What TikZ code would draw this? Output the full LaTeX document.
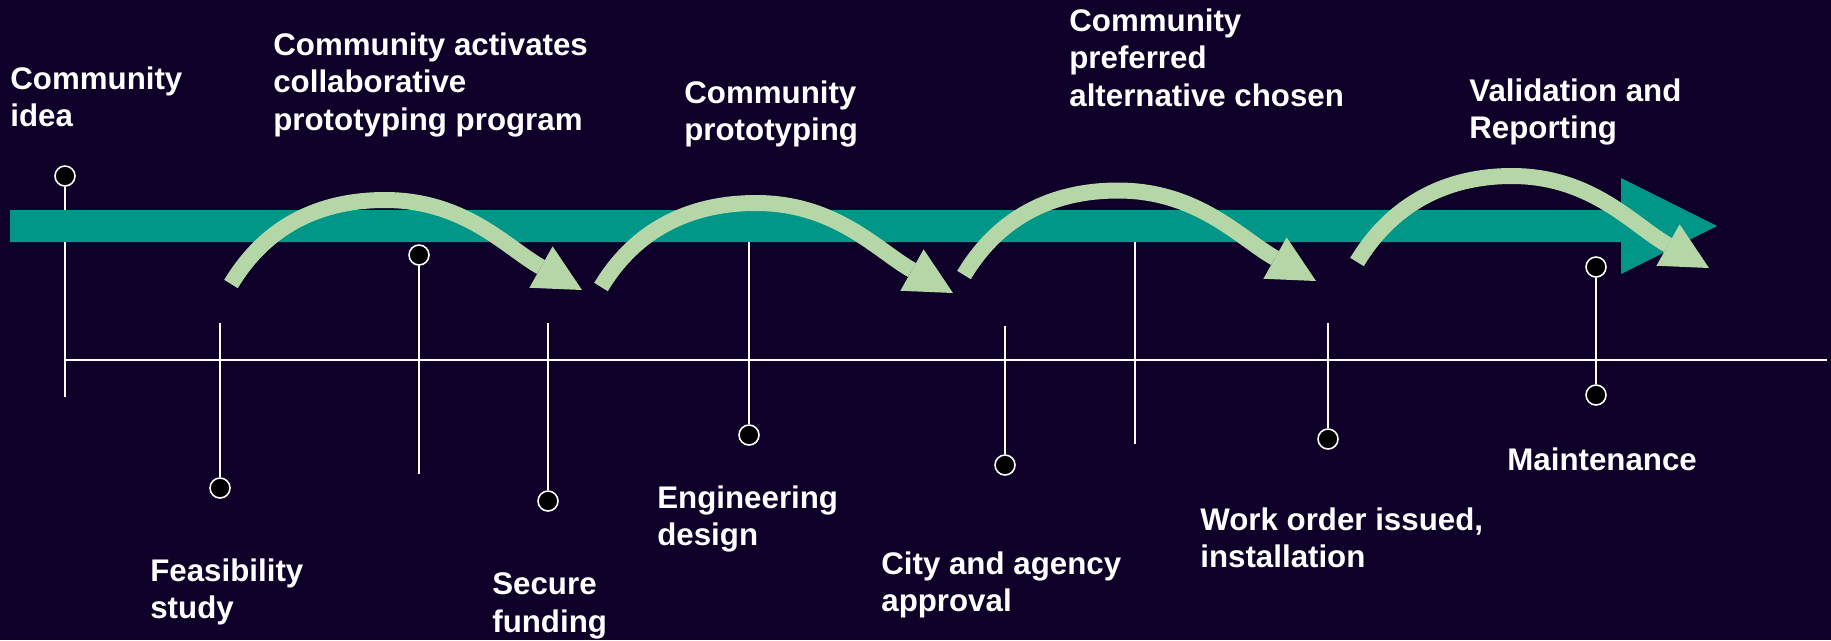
\documentclass[tikz,border=0pt]{standalone}
\usepackage{fontspec}
\setmainfont{Liberation Sans}
\usetikzlibrary{arrows.meta}
\definecolor{bgc}{RGB}{14,0,40}
\definecolor{tealc}{RGB}{0,150,136}
\definecolor{greenc}{RGB}{181,214,167}
\begin{document}
\begin{tikzpicture}[x=0.02cm,y=-0.02cm,
  lbl/.style={anchor=north west,inner sep=0pt,align=left,text=white,font=\bfseries\fontsize{17.8}{21.6}\selectfont},
  vline/.style={draw=white,line width=0.85pt},
  tline/.style={draw=white,line width=1.3pt},
  dot/.style={circle,fill=black,draw=white,line width=0.9pt,minimum size=0.4cm,inner sep=0pt},
  garrow/.style={draw=greenc,line width=0.32cm,-{Triangle[width=0.95cm,length=0.94cm,line width=0pt]}},
]
\useasboundingbox (0,0) rectangle (1831,640);
\fill[bgc] (0,0) rectangle (1831,640);

% timeline
\coordinate (tl0) at (65,360);
\coordinate (tl1) at (1827,360);
\draw[tline] (tl0) -- (tl1);

% dots
\node[dot] (d1) at (65,176) {};
\node[dot] (d2) at (220,488) {};
\node[dot] (d3) at (419,255) {};
\node[dot] (d4) at (548,501) {};
\node[dot] (d5) at (749,435) {};
\node[dot] (d6) at (1005,465) {};
\node[dot] (d8) at (1328,439) {};
\node[dot] (d9a) at (1596,267) {};
\node[dot] (d9b) at (1596,395) {};

% line ends
\coordinate (e1) at (65,397);
\coordinate (e2) at (220,323);
\coordinate (e3) at (419,474);
\coordinate (e4) at (548,323);
\coordinate (e5) at (749,242);
\coordinate (e6) at (1005,326);
\coordinate (e7a) at (1135,242);
\coordinate (e7b) at (1135,444);
\coordinate (e8) at (1328,323);

\draw[vline] (d1) -- (e1);
\draw[vline] (e2) -- (d2);
\draw[vline] (d3) -- (e3);
\draw[vline] (e4) -- (d4);
\draw[vline] (e5) -- (d5);
\draw[vline] (e6) -- (d6);
\draw[vline] (e7a) -- (e7b);
\draw[vline] (e8) -- (d8);
\draw[vline] (d9a) -- (d9b);

% teal bar arrow
\fill[tealc] (10,210) -- (1621,210) -- (1621,178) -- (1717,226) -- (1621,274) -- (1621,242) -- (10,242) -- cycle;

% green curved arrows
\coordinate (a1s) at (231,284); \coordinate (a1t) at (385,200); \coordinate (a1e) at (582,290);
\coordinate (a2s) at (601,287); \coordinate (a2t) at (756,203); \coordinate (a2e) at (953,293);
\coordinate (a3s) at (964,275); \coordinate (a3t) at (1118,190.5); \coordinate (a3e) at (1316,281);
\coordinate (a4s) at (1357,262); \coordinate (a4t) at (1512,176); \coordinate (a4e) at (1709,268);
\foreach \i in {1,2,3,4}{
  \draw[garrow] (a\i s) .. controls +(30,-50) and +(-75,0) .. (a\i t)
     .. controls +(80,0) and +(-75,-42) .. (a\i e);
}

% labels
\node[lbl] (t1) at (10,66) {Community\\idea};
\node[lbl] (t2) at (273,32) {Community activates\\collaborative\\prototyping program};
\node[lbl] (t3) at (684,80) {Community\\prototyping};
\node[lbl] (t4) at (1069,8) {Community\\preferred\\alternative chosen};
\node[lbl] (t5) at (1469,78) {Validation and\\Reporting};
\node[lbl] (b1) at (150,558) {Feasibility\\study};
\node[lbl] (b2) at (492,572) {Secure\\funding};
\node[lbl] (b3) at (657,485) {Engineering\\design};
\node[lbl] (b4) at (881,551) {City and agency\\approval};
\node[lbl] (b5) at (1200,507) {Work order issued,\\installation};
\node[lbl] (b6) at (1507,447) {Maintenance};
\end{tikzpicture}
\end{document}
